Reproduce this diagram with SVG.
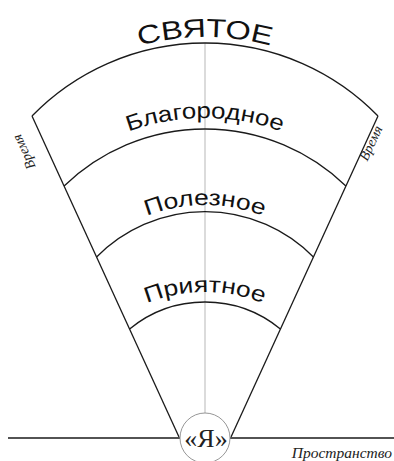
<svg xmlns="http://www.w3.org/2000/svg" width="394" height="461" viewBox="0 0 394 461">
<style>
.ln{fill:none;stroke:#1a1a1a;stroke-width:1.3}
.axis{fill:none;stroke:#c8c8c8;stroke-width:1.3}
.ring{fill:#fff;stroke:#8a8a8a;stroke-width:0.9}
.lbl{font-family:"Liberation Sans",Arial,sans-serif;fill:#111}
.it{font-family:"Liberation Serif","Times New Roman",serif;font-style:italic;fill:#222}
.rm{font-family:"Liberation Serif","Times New Roman",serif;fill:#222}
</style>
<defs>
<path id="p1" d="M-45,287 A250,250 0 0 1 455,287"/>
<path id="p2" d="M-17,340 A222,222 0 0 1 427,340"/>
<path id="p3" d="M47,363 A158,158 0 0 1 363,363"/>
<path id="p4" d="M49,448 A156,156 0 0 1 361,448"/>
</defs>
<g id="connectors">
<line class="axis" x1="205" y1="43" x2="205" y2="413"/>
<line class="ln" x1="32" y1="116" x2="179" y2="437"/>
<line class="ln" x1="378" y1="116" x2="231" y2="437"/>
<line class="ln" x1="8" y1="438" x2="180" y2="438"/>
<line class="ln" x1="230" y1="438" x2="394" y2="438"/>
</g>
<g id="sacred">
<path class="ln" d="M32,116 A241.5,241.5 0 0 1 378,116"/>
<text class="lbl" font-size="26"><textPath href="#p1" startOffset="50%" text-anchor="middle" textLength="133" lengthAdjust="spacingAndGlyphs">СВЯТОЕ</textPath></text>
</g>
<g id="noble">
<path class="ln" d="M64.1,186 A202.6,202.6 0 0 1 345.9,186"/>
<text class="lbl" font-size="22"><textPath href="#p2" startOffset="50%" text-anchor="middle" textLength="156" lengthAdjust="spacingAndGlyphs">Благородное</textPath></text>
</g>
<g id="useful">
<path class="ln" d="M96.6,257 A152.3,152.3 0 0 1 313.4,257"/>
<text class="lbl" font-size="22"><textPath href="#p3" startOffset="50%" text-anchor="middle" textLength="119" lengthAdjust="spacingAndGlyphs">Полезное</textPath></text>
</g>
<g id="pleasant">
<path class="ln" d="M129.6,329 A118.8,118.8 0 0 1 280.4,329"/>
<text class="lbl" font-size="22"><textPath href="#p4" startOffset="50%" text-anchor="middle" textLength="119" lengthAdjust="spacingAndGlyphs">Приятное</textPath></text>
</g>
<g id="self">
<circle class="ring" cx="205" cy="438" r="25"/>
<text class="rm" x="206" y="447" font-size="26" text-anchor="middle">«Я»</text>
</g>
<g id="time-left">
<text class="it" font-size="14" text-anchor="middle" transform="translate(28,150) rotate(-115)">Время</text>
</g>
<g id="time-right">
<text class="it" font-size="14" text-anchor="middle" transform="translate(375,145) rotate(-65)">Время</text>
</g>
<g id="space">
<text class="it" x="392" y="458" font-size="15.5" text-anchor="end">Пространство</text>
</g>
</svg>
